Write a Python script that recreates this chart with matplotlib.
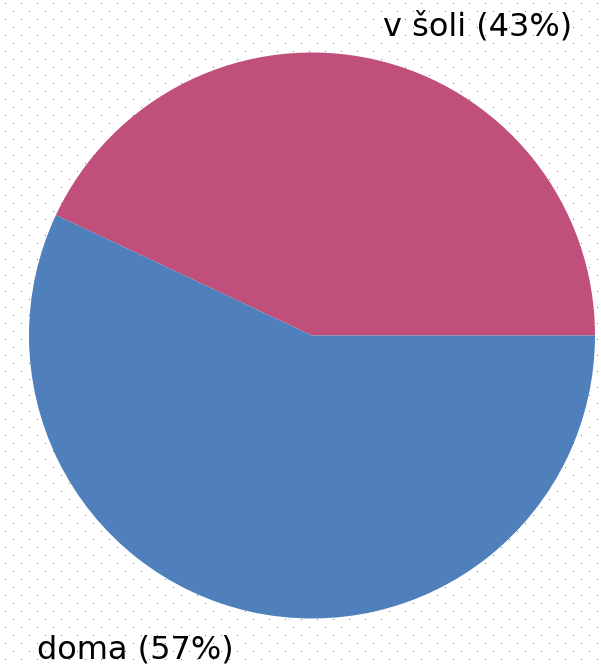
import numpy as np
import matplotlib
matplotlib.use("Agg")
import matplotlib.pyplot as plt

# data
labels = ["v šoli", "doma"]
shares = [43, 57]
colors = ["#c14f7c", "#4f80bb"]

W, H, DPI = 601, 667, 100
fig = plt.figure(figsize=(W / DPI, H / DPI), dpi=DPI)

# dotted background
bg = np.ones((H, W, 3))
dot = np.array([0x5a, 0x9a, 0x28]) / 255.0
for y in range(7, H, 16):
    bg[H - 1 - y, 5::16] = dot
for y in range(15, H, 16):
    bg[H - 1 - y, 13::16] = dot
fig.figimage(bg, xo=0, yo=0, zorder=0)

cx, cy, r = 312, 335.5, 283
ax = fig.add_axes([(cx - r) / W, (H - cy - r) / H, 2 * r / W, 2 * r / H])
ax.set_zorder(2)
ax.patch.set_visible(False)
ax.pie(shares, colors=colors, startangle=0, counterclock=True,
       wedgeprops=dict(linewidth=0))
ax.set_xlim(-1, 1)
ax.set_ylim(-1, 1)
ax.axis("off")

t1 = fig.text(572 / W, 1 - 27 / H, "%s (%d%%)" % (labels[0], shares[0]),
              ha="right", va="center", fontsize=23, color="black")
t2 = fig.text(37 / W, 1 - 650 / H, "%s (%d%%)" % (labels[1], shares[1]),
              ha="left", va="center", fontsize=23, color="black")
t1.set_zorder(3)
t2.set_zorder(3)

fig.savefig("out.png", dpi=DPI)
